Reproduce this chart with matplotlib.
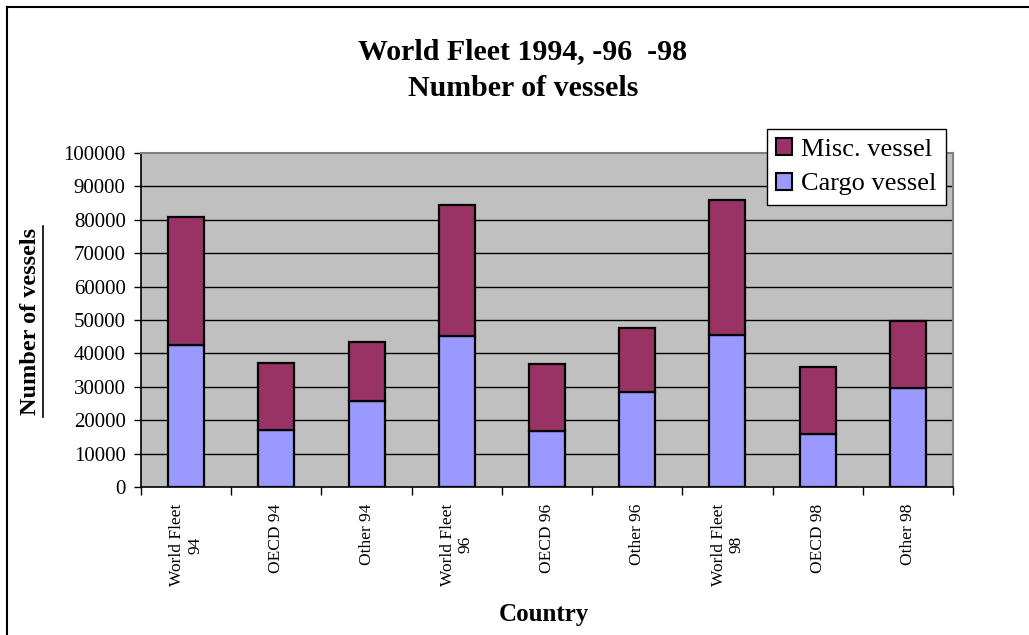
import matplotlib
matplotlib.use("Agg")
import matplotlib.pyplot as plt
import numpy as np
from matplotlib.patches import Patch
from matplotlib.lines import Line2D

# Data
categories = ["World Fleet\n94", "OECD 94", "Other 94",
              "World Fleet\n96", "OECD 96", "Other 96",
              "World Fleet\n98", "OECD 98", "Other 98"]
cargo = [42500, 17000, 25700, 45200, 16700, 28300, 45500, 16000, 29700]
misc = [38200, 20000, 17800, 39200, 20100, 19200, 40300, 20000, 20000]
yticks = [0, 10000, 20000, 30000, 40000, 50000, 60000, 70000, 80000, 90000, 100000]

CARGO_COLOR = "#9999FF"
MISC_COLOR = "#993366"
PLOT_BG = "#C0C0C0"
SERIF = "Liberation Serif"

W, H = 1029, 635
fig = plt.figure(figsize=(W / 100, H / 100), dpi=100)
fig.patch.set_facecolor("white")

# Outer frame (left and top edges)
fig.add_artist(Line2D([7 / W, 7 / W], [0, 1 - 7 / H], transform=fig.transFigure,
                      color="black", lw=1.5))
fig.add_artist(Line2D([7 / W, 1], [1 - 7 / H, 1 - 7 / H], transform=fig.transFigure,
                      color="black", lw=1.5))

ax = fig.add_axes([141 / W, 1 - 487 / H, 812 / W, 334 / H])
ax.set_facecolor(PLOT_BG)

x = np.arange(len(categories))
ax.bar(x, cargo, width=0.4, color=CARGO_COLOR, edgecolor="black", linewidth=1.6, zorder=3)
ax.bar(x, misc, width=0.4, bottom=cargo, color=MISC_COLOR, edgecolor="black",
       linewidth=1.6, zorder=3)

ax.set_xlim(-0.5, len(categories) - 0.5)
ax.set_ylim(0, 100000)

# Gridlines
ax.set_yticks(yticks)
ax.set_yticklabels([str(v) for v in yticks], fontfamily=SERIF, fontsize=15)
for v in yticks[1:-1]:
    ax.axhline(v, color="black", lw=1.0, zorder=1)

# Category boundary ticks and centred labels
ax.set_xticks(np.arange(-0.5, len(categories), 1.0))
ax.set_xticklabels([])
ax.set_xticks(x, minor=True)
ax.set_xticklabels(categories, minor=True, rotation=90, fontfamily=SERIF,
                   fontsize=12.5, multialignment="center", linespacing=1.15)
ax.tick_params(axis="x", which="minor", length=0, pad=12)
ax.tick_params(axis="x", which="major", direction="out", length=6, width=1, color="black")
ax.tick_params(axis="y", direction="out", length=5, width=1, color="black", pad=6)

for side in ("top", "right"):
    ax.spines[side].set_color("#808080")
    ax.spines[side].set_linewidth(1.5)
for side in ("left", "bottom"):
    ax.spines[side].set_color("black")
    ax.spines[side].set_linewidth(1.2)

# Titles
fig.text(523 / W, 1 - 52 / H, "World Fleet 1994, -96  -98", ha="center", va="center",
         fontfamily=SERIF, fontweight="bold", fontsize=21.5)
fig.text(523 / W, 1 - 88 / H, "Number of vessels", ha="center", va="center",
         fontfamily=SERIF, fontweight="bold", fontsize=21.5)

fig.text(544 / W, 1 - 614 / H, "Country", ha="center", va="center",
         fontfamily=SERIF, fontweight="bold", fontsize=18)

fig.text(31 / W, 1 - 321 / H, "Number of vessels", ha="center", va="center", rotation=90,
         fontfamily=SERIF, fontweight="bold", fontsize=17.5)
fig.add_artist(Line2D([43 / W, 43 / W], [1 - 417 / H, 1 - 226 / H], transform=fig.transFigure,
                      color="black", lw=1.2))

# Legend
handles = [Patch(facecolor=MISC_COLOR, edgecolor="black", linewidth=1.5, label="Misc. vessel"),
           Patch(facecolor=CARGO_COLOR, edgecolor="black", linewidth=1.5, label="Cargo vessel")]
leg = fig.legend(handles=handles, loc="upper left", bbox_to_anchor=(767 / W, 1 - 129 / H),
                 frameon=True, fancybox=False, edgecolor="black", framealpha=1,
                 prop={"family": SERIF, "size": 19}, handlelength=0.6, handleheight=0.6,
                 handletextpad=0.35, borderpad=0.35, labelspacing=0.45, borderaxespad=0)
leg.get_frame().set_linewidth(1.0)

fig.savefig("out.png", dpi=100)
